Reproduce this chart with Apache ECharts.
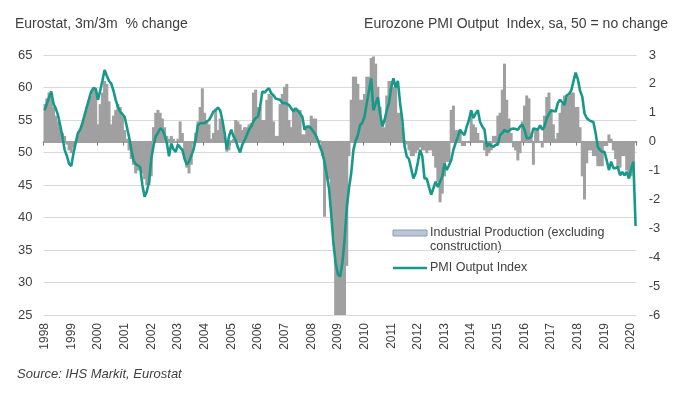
<!DOCTYPE html>
<html>
<head>
<meta charset="utf-8">
<script src="https://cdn.jsdelivr.net/npm/echarts@6/dist/echarts.min.js"></script>
<style>
html,body{margin:0;padding:0;background:#fff;}
#chart{width:680px;height:393px;}
</style>
</head>
<body>
<div id="chart"></div>
<script>
// Years shown on the x axis (monthly data Jan 1998 – Mar 2020)
const years = [1998,1999,2000,2001,2002,2003,2004,2005,2006,2007,2008,2009,2010,2011,2012,2013,2014,2015,2016,2017,2018,2019,2020];
const lastYearMonths = 3;

// Industrial Production (excl. construction), 3m/3m % change – right axis
const ipChange = [
  1.3, 1.5, 1.7, 1.6, 1.2, 0.9, 0.7, 0.5, 0.3, 0.2, -0.1, -0.3,      // 1998
  -0.4, -0.2, 0.0, 0.2, 0.4, 0.6, 0.9, 1.2, 1.4, 1.6, 1.9, 1.8,      // 1999
  0.6, 1.3, 1.7, 2.1, 2.0, 1.4, 0.6, 0.9, 1.1, 1.3, 1.2, 0.9,        // 2000
  0.4, 0.1, -0.3, -0.6, -0.8, -1.1, -1.0, -0.9, -1.1, -1.3, -1.5, -1.5, // 2001
  -1.2, 0.5, 1.0, 1.1, 1.0, 0.8, 0.5, 0.2, 0.1, 0.2, 0.1, 0.0,       // 2002
  0.1, 0.7, 0.3, -0.6, -0.9, -1.1, -0.8, -0.1, 0.3, 0.7, 1.2, 1.85,  // 2003
  1.0, 0.7, 0.6, 0.1, 0.3, 1.15, 0.4, 0.8, 0.7, 0.2, -0.35, -0.3,    // 2004
  0.05, 0.1, 0.75, 0.7, 0.6, 0.4, 0.5, 0.5, 0.6, 0.65, 1.7, 1.8,     // 2005
  1.2, 1.2, 0.75, 0.75, 1.45, 1.65, 1.6, 0.7, 0.2, 0.2, 1.3, 1.65,   // 2006
  1.9, 2.0, 0.75, 0.5, 1.15, 1.1, 1.1, 1.1, 0.25, 0.25, 0.5, 0.5,    // 2007
  0.9, 0.8, 0.8, 0.05, 0.05, -0.5, -2.6, -1.2, -1.3, -2.3, -3.3, -6.8, // 2008
  -7.5, -8.5, -8.2, -6.8, -4.3, -0.5, 1.45, 2.25, 2.25, 2.0, 1.45, 1.45, // 2009
  1.65, 2.25, 2.25, 2.9, 2.95, 2.7, 1.9, 1.2, 0.5, 0.5, 1.6, 2.1,    // 2010
  2.1, 1.9, 1.9, 1.0, 1.0, 0.5, 0.05, -0.1, -0.3, -0.5, -0.5, -0.4,  // 2011
  -0.3, -0.2, -0.3, -0.3, -0.4, -0.3, -0.3, -0.5, -0.9, -1.4, -2.1, -1.8, // 2012
  -1.2, -0.7, -0.7, 1.1, 1.25, 0.4, 0.4, 0.4, -0.15, -0.15, 0.0, 0.0, // 2013
  1.0, 0.6, 0.5, 0.3, 0.05, 0.05, -0.3, -0.5, -0.4, -0.3, 0.2, 0.2,  // 2014
  0.9, 1.0, 1.8, 2.7, 1.45, 0.8, 0.3, -0.2, -0.3, -0.65, -0.4, 0.7,  // 2015
  1.25, 1.6, 1.5, 0.3, -0.8, 0.4, 0.4, 0.0, -0.2, 0.9, 1.55, 1.7,    // 2016
  1.1, 0.6, 0.1, 0.3, 1.0, 1.3, 1.6, 1.5, 1.6, 1.7, 1.7, 1.2,        // 2017
  1.2, 0.5, -1.2, -2.0, -0.75, -0.3, -0.3, -0.5, -0.5, -0.85, -0.85, -0.85, // 2018
  -0.15, -0.15, 0.25, 0.1, -0.3, -0.6, -0.9, -0.9, -0.5, -0.5, -1.0, -1.2, // 2019
  -1.2, -1.1, null                                                   // 2020
];

// Eurozone PMI Output Index – left axis
const pmiOutput = [
  56.5, 57.5, 58.5, 59.4, 57.5, 56.8, 55.8, 54.2, 52.5, 50.4, 49.5, 48.3, // 1998
  47.9, 49.9, 51.5, 53.0, 53.5, 54.5, 55.8, 57.0, 58.2, 59.4, 59.9, 59.8, // 1999
  58.1, 59.5, 61.0, 62.7, 61.8, 61.0, 60.6, 59.5, 58.1, 57.0, 56.3, 55.9, // 2000
  55.5, 54.0, 52.4, 50.5, 48.8, 48.2, 48.0, 47.8, 45.0, 43.2, 44.0, 45.5, // 2001
  49.0, 51.0, 52.5, 53.0, 53.7, 53.5, 52.7, 51.5, 49.4, 51.4, 50.5, 50.1, // 2002
  51.2, 50.8, 50.4, 49.0, 48.1, 48.6, 49.5, 50.4, 52.0, 54.2, 54.5, 54.5, // 2003
  54.5, 54.8, 55.0, 55.6, 56.3, 56.5, 56.9, 56.5, 55.0, 53.0, 50.5, 52.5, // 2004
  53.5, 52.5, 51.9, 50.8, 50.0, 51.2, 51.9, 52.7, 53.5, 54.0, 54.8, 55.3, // 2005
  55.5, 57.0, 59.4, 59.2, 59.6, 59.9, 59.1, 58.8, 58.3, 58.2, 58.1, 57.6, // 2006
  57.6, 57.5, 57.3, 56.8, 56.3, 56.8, 56.4, 56.0, 55.5, 53.5, 54.0, 54.0, // 2007
  53.7, 53.2, 52.7, 51.9, 50.8, 50.0, 48.5, 46.5, 44.5, 40.5, 36.0, 33.0, // 2008
  31.3, 30.9, 33.0, 36.5, 41.5, 44.5, 46.8, 50.4, 51.8, 52.7, 54.2, 54.6, // 2009
  55.5, 57.6, 59.5, 61.4, 56.5, 57.5, 58.5, 56.0, 54.0, 55.0, 56.5, 57.6, // 2010
  60.0, 61.4, 60.0, 61.0, 57.6, 55.0, 51.0, 49.4, 49.0, 47.5, 46.0, 46.8, // 2011
  48.5, 50.4, 49.4, 46.0, 46.0, 44.7, 43.5, 44.5, 45.5, 44.7, 45.5, 46.3, // 2012
  48.3, 47.3, 48.0, 48.8, 50.4, 51.5, 52.4, 53.5, 53.0, 52.7, 54.0, 55.0, // 2013
  56.5, 55.3, 56.0, 56.5, 54.7, 54.0, 53.5, 50.9, 51.4, 51.0, 50.9, 51.2, // 2014
  51.2, 52.7, 53.0, 53.5, 53.2, 53.3, 53.6, 53.7, 53.6, 53.5, 54.0, 54.3, // 2015
  53.5, 52.2, 52.2, 52.4, 53.7, 53.6, 53.5, 54.2, 53.5, 54.0, 55.3, 55.9, // 2016
  56.5, 56.4, 56.3, 57.6, 58.1, 57.7, 57.3, 58.8, 59.0, 59.5, 60.9, 62.3, // 2017
  61.3, 59.5, 58.6, 56.0, 55.3, 55.0, 54.8, 54.7, 53.0, 50.9, 50.4, 50.1, // 2018
  50.1, 48.8, 47.3, 48.6, 47.6, 47.6, 47.8, 46.5, 47.0, 46.5, 47.0, 46.0, // 2019
  47.5, 48.6, 38.7                                                       // 2020
];

const ipName = 'Industrial Production (excluding construction)';
const pmiName = 'PMI Output Index';

// month categories built from the year list
const months = [];
years.forEach((y, i) => {
  const n = i === years.length - 1 ? lastYearMonths : 12;
  for (let m = 1; m <= n; m++) months.push(y + '-' + (m < 10 ? '0' + m : m));
});

const FONT = '"Liberation Sans", Arial, sans-serif';
const TXT = '#404040';
const TEAL = '#17998a';
const BAR = '#a0a0a0';

const chart = echarts.init(document.getElementById('chart'), null, {renderer: 'canvas'});
chart.setOption({
  animation: false,
  backgroundColor: '#ffffff',
  textStyle: {fontFamily: FONT},
  grid: {left: 43.5, right: 43.3, top: 55, bottom: 78, containLabel: false},
  xAxis: {
    type: 'category',
    data: months,
    boundaryGap: true,
    axisLine: {lineStyle: {color: '#808080', width: 1.5}},
    axisTick: {
      show: true, length: 4,
      interval: (idx, val) => val.slice(5) === '01',
      lineStyle: {color: '#808080', width: 1}
    },
    axisLabel: {
      interval: (idx, val) => val.slice(5) === '01',
      formatter: v => v.slice(0, 4),
      rotate: 90, margin: 8,
      color: TXT, fontSize: 12, fontFamily: FONT
    },
    splitLine: {show: false}
  },
  yAxis: [
    {
      type: 'value', min: 25, max: 65, interval: 5, position: 'left',
      axisLine: {show: false}, axisTick: {show: false},
      axisLabel: {color: TXT, fontSize: 13, margin: 11, fontFamily: FONT},
      splitLine: {show: true, lineStyle: {color: '#d9d9d9', width: 1}}
    },
    {
      type: 'value', min: -6, max: 3, interval: 1, position: 'right',
      axisLine: {show: false}, axisTick: {show: false},
      axisLabel: {color: TXT, fontSize: 13, margin: 12, fontFamily: FONT},
      splitLine: {show: false}
    }
  ],
  series: [
    {
      name: ipName, type: 'bar', yAxisIndex: 1, data: ipChange,
      barWidth: 3,
      itemStyle: {color: BAR},
      clip: true, z: 2
    },
    {
      name: pmiName, type: 'line', yAxisIndex: 0, data: pmiOutput,
      showSymbol: false, symbol: 'none',
      lineStyle: {color: TEAL, width: 2.6},
      z: 3
    }
  ],
  graphic: [
    {type: 'text', left: 15, top: 17, style: {text: 'Eurostat, 3m/3m  % change', fill: TXT, font: '14px ' + FONT}},
    {type: 'text', right: 12, top: 17, style: {text: 'Eurozone PMI Output  Index, sa, 50 = no change', fill: TXT, font: '14px ' + FONT}},
    {type: 'text', left: 17, top: 368, style: {text: 'Source: IHS Markit, Eurostat', fill: TXT, font: 'italic 13px ' + FONT}},
    {type: 'rect', shape: {x: 393, y: 230, width: 34, height: 6}, style: {fill: '#b9c5d8', stroke: '#8d9db5', lineWidth: 1}},
    {type: 'text', x: 430, y: 226, style: {text: 'Industrial Production (excluding\nconstruction)', fill: TXT, font: '12.5px ' + FONT, lineHeight: 14}},
    {type: 'line', shape: {x1: 393, y1: 268, x2: 427, y2: 268}, style: {stroke: TEAL, lineWidth: 2.6}},
    {type: 'text', x: 430, y: 261, style: {text: pmiName, fill: TXT, font: '12.5px ' + FONT}}
  ]
});
</script>
</body>
</html>
